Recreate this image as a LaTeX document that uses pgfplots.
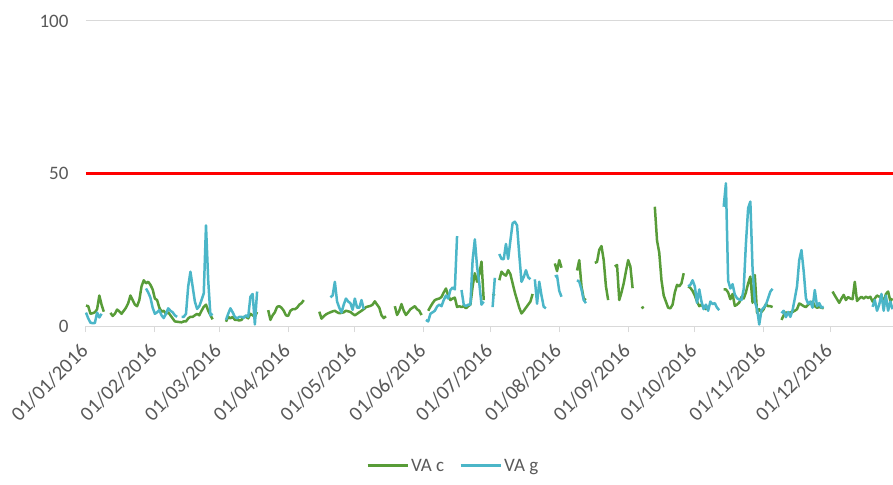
\documentclass[border=0pt]{standalone}
\usepackage{pgfplots}
\pgfplotsset{compat=1.18}
\usepackage{fontspec}
\setmainfont{Carlito}
\definecolor{vac}{RGB}{88,156,56}
\definecolor{vag}{RGB}{75,182,200}
\definecolor{gridgray}{RGB}{217,217,217}
\definecolor{labelgray}{RGB}{89,89,89}
\begin{document}
\begin{tikzpicture}
\useasboundingbox (-86pt,-158pt) rectangle (807pt,326pt);
\begin{axis}[
  at={(0,0)}, anchor=south west,
  scale only axis, width=807pt, height=305pt,
  xmin=0, xmax=363.2, ymin=0, ymax=100,
  clip=false,
  axis x line*=bottom, axis y line*=left,
  x axis line style={draw=gridgray, line width=1pt},
  y axis line style={draw=none},
  ytick={0,50,100}, yticklabels={0,50,100},
  ymajorgrids, grid style={draw=gridgray, line width=1pt},
  xtick={0,31,60,91,121,152,182,213,244,274,305,335},
  xticklabels={01/01/2016,01/02/2016,01/03/2016,01/04/2016,01/05/2016,01/06/2016,01/07/2016,01/08/2016,01/09/2016,01/10/2016,01/11/2016,01/12/2016},
  tick align=outside, major tick length=6pt,
  xtick style={draw=gridgray, line width=1pt},
  ytick style={draw=none},
  tick label style={font=\fontsize{19}{22}\selectfont, text=labelgray},
  xticklabel style={font=\fontsize{20.5}{23}\selectfont, yshift=-13pt, xshift=1pt, rotate=45, anchor=east},
  yticklabel style={xshift=-8pt},
  unbounded coords=jump,
  legend columns=2,
  legend style={at={(0.455,-0.459)}, anchor=center, draw=none, fill=none,
    font=\fontsize{19}{22}\selectfont, text=labelgray,
    /tikz/every even column/.append style={column sep=13pt}},
  legend image code/.code={\draw[#1, line width=3pt] (0pt,0pt) -- (40pt,0pt);},
]
\addplot[draw=red, line width=3.5pt, forget plot] coordinates {(0,50) (363.2,50)};
\addplot[draw=vac, line width=2.5pt, line join=round] table {
x y
0 6.7
1 6.5
2 4
3 4.2
4 4.5
5 5.5
6 10
7 7
8 4.7
9 nan
11 4.3
12 3.3
13 4
14 5.4
15 4.8
16 4
17 5
18 6
19 7.5
20 10
21 8.5
22 7
23 6.5
24 8.5
25 13
26 15
27 14
28 14.5
29 13.5
30 12
31 9
32 8.5
33 6
34 4.7
35 5
36 4
37 4.5
38 3.5
39 2.5
40 1.5
41 1.4
42 1.3
43 1.2
44 1.5
45 1.5
46 2.5
47 3
48 3
49 3.5
50 4
51 3.5
52 5
53 6.3
54 7
55 5
56 3.5
57 2.2
58 nan
63 1.4
64 3
65 2.5
66 3
67 2
68 2
69 1.8
70 2
71 3
72 3
73 2.5
74 4
75 3.5
76 3
77 4.6
78 nan
82 5.2
83 2
84 3.5
85 4.5
86 6.3
87 6.5
88 6
89 5
90 3.5
91 3.3
92 5
93 5.5
94 5.5
95 6
96 7
97 7.5
98 8.5
99 nan
105 4.7
106 2.4
107 3.2
108 3.8
109 4.2
110 4.5
111 4.8
112 5
113 4.5
114 4.2
115 4.3
116 4.5
117 5
118 4.8
119 4.6
120 4
121 3.5
122 4
123 4.5
124 5
125 5.5
126 6.2
127 6.4
128 6.6
129 7
130 8.1
131 7
132 6
133 3.5
134 2.6
135 3.2
136 nan
139 6.5
140 3.6
141 5
142 7.2
143 5
144 3.6
145 4.5
146 5.5
147 6
148 6.5
149 5.5
150 5
151 3.6
152 nan
154 5
155 6.3
156 7.5
157 8.5
158 8.8
159 9
160 9.5
161 11
162 12.3
163 10
164 8.5
165 9
166 9.3
167 6.2
168 6.5
169 6.2
170 6.5
171 5.8
172 6.5
173 7
174 12.9
175 17.3
176 14.5
177 17
178 21.1
179 8.5
180 nan
183 10
184 10.5
185 nan
186 15
187 17.8
188 17
189 16.5
190 18.3
191 17
192 14
193 11
194 8.5
195 6
196 4.1
197 5
198 6
199 7
200 8
201 10.5
202 nan
211 20.5
212 18
213 21.6
214 19.1
215 nan
221 18.2
222 21.6
223 13
224 9
225 8.5
226 nan
229 20.7
230 21
231 25
232 26.2
233 21.6
234 13
235 8.5
236 nan
238 19.5
239 20
240 8.5
241 11
242 14
243 17.9
244 21.6
245 19.5
246 12.4
247 nan
250 5.8
251 6.3
252 nan
256 39.1
257 28
258 24
259 15
260 10
261 8
262 6
263 5.8
264 7
265 11
266 13.5
267 13
268 14
269 17.3
270 nan
271 13
272 12.5
273 11.5
274 10
275 8
276 6.5
277 7
278 6
279 5.5
280 6.5
281 nan
287 12
288 12
289 11
290 8.8
291 10.5
292 6.6
293 7
294 7.7
295 9.5
296 9
297 11
298 14
299 16.2
300 7.6
301 16.7
302 4.3
303 5.5
304 4.6
305 5.5
306 7.2
307 6.5
308 6.5
309 6.2
310 nan
313 2
314 3.5
315 4.5
316 4
317 4.5
318 4.6
319 5
320 5.5
321 7.4
322 7
323 6.5
324 6.2
325 7
326 7.5
327 8
328 6.5
329 6
330 6.2
331 6
332 5.8
333 nan
336 11.3
337 10
338 8.8
339 7.6
340 9
341 10.2
342 8.5
343 9.5
344 9
345 8.8
346 14.5
347 8.2
348 9
349 9.6
350 9
351 9.6
352 9.2
353 9.6
354 8
355 9
356 10
357 9.6
358 9.6
359 8
360 10.5
361 11.3
362 8.2
363 9
};
\addlegendentry{VA c}
\addplot[draw=vag, line width=2.5pt, line join=round] table {
x y
0 4.4
1 2.5
2 1.1
3 0.9
4 1
5 4.4
6 2.8
7 4
8 nan
27 12.3
28 11
29 9.3
30 6
31 4
32 4.5
33 5.2
34 3.5
35 2.6
36 4
37 5.8
38 5
39 4.5
40 3.5
41 3
42 nan
43 3
44 3
45 4
46 13
47 17.8
48 12.9
49 8
50 5.6
51 6.5
52 8.5
53 10.7
54 33
55 15
56 3.5
57 4
58 nan
63 2
64 4
65 5.8
66 4.5
67 3
68 2.5
69 3
70 3
71 2.7
72 3.5
73 3
74 9.6
75 10.5
76 0.5
77 11.3
78 nan
110 9.4
111 10
112 14.5
113 8
114 6
115 4.4
116 7
117 9
118 8
119 7.5
120 5.3
121 9
122 6
123 6
124 8.5
125 5.5
126 nan
153 2
154 1.5
155 4
156 4.5
157 5
158 6.4
159 7
160 6.5
161 8.5
162 10
163 9
164 11.8
165 12.6
166 12
167 29.5
168 nan
169 11.8
170 7
171 6.5
172 7
173 7
174 21.6
175 28.4
176 19.5
177 14
178 7
179 8
180 nan
183 6.2
184 15.8
185 nan
186 23.6
187 22
188 21.9
189 26.9
190 22
191 28
192 33.7
193 34.2
194 33
195 23.3
196 14.5
197 16
198 18.3
199 16
200 15.3
201 nan
202 15.3
203 7.3
204 14.5
205 10
206 6.3
207 5.8
208 nan
211 16.2
212 16.5
213 11.5
214 9.6
215 nan
221 15
222 14.5
223 12
224 8.5
225 7.5
226 nan
271 13
272 13.5
273 15
274 13
275 7.6
276 12
277 8
278 5.5
279 7
280 5
281 8
282 7.2
283 7.5
284 6
285 5.2
286 nan
287 39.1
288 46.8
289 14.9
290 12.3
291 13.7
292 10.3
293 9.1
294 8.7
295 8.5
296 12
297 27
298 38.6
299 40.8
300 18.6
301 8
302 5.7
303 0.5
304 5.2
305 6
306 7
307 9.1
308 11.3
309 12.2
310 nan
313 4.2
314 5
315 2.9
316 4.6
317 3
318 5.2
319 9
320 13
321 21.6
322 24.9
323 18
324 9.1
325 7.3
326 8
327 6
328 11.8
329 6.5
330 7.5
331 6
332 6.3
333 nan
354 6.3
355 8.5
356 5
357 7
358 10.5
359 5
360 10
361 5
362 8
363 5.5
};
\addlegendentry{VA g}
\end{axis}
\end{tikzpicture}
\end{document}
